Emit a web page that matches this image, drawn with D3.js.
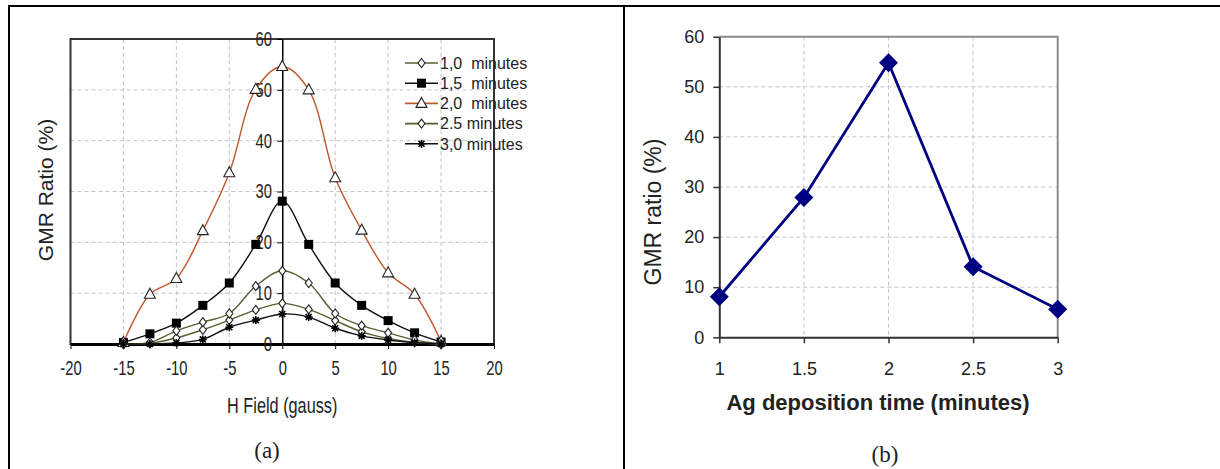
<!DOCTYPE html>
<html lang="en">
<head>
<meta charset="UTF-8">
<title>GMR ratio</title>
<script src="https://cdn.jsdelivr.net/npm/d3@7"></script>
<style>
  body { margin: 0; background: #fff; }
  text { font-family: "Liberation Sans", Arial, sans-serif; fill: #222; }
</style>
</head>
<body>
<script>
// ---- data, panel (a) ----
const hField = [-15, -12.5, -10, -7.5, -5, -2.5, 0, 2.5, 5, 7.5, 10, 12.5, 15]
const gmr10 = [0, 0.1, 1.2, 2.8, 4.7, 6.7, 8.0, 6.8, 4.6, 2.4, 1.1, 0.3, 0]
const gmr15 = [0.3, 2.0, 4.1, 7.6, 12.0, 19.6, 28.1, 19.6, 12.0, 7.6, 4.6, 2.2, 0.4]
const gmr20 = [0.3, 9.8, 12.9, 22.3, 33.7, 50.1, 54.6, 50.0, 32.7, 22.4, 14.0, 9.8, 0.5]
const gmr25 = [0, 0.3, 2.6, 4.3, 6.0, 11.4, 14.4, 12.0, 6.0, 3.6, 2.2, 0.8, 0]
const gmr30 = [0, 0, 0.2, 0.9, 3.3, 4.7, 5.9, 5.3, 3.1, 1.6, 0.8, 0.3, 0]
const seriesNames = ['1,0  minutes', '1,5  minutes', '2,0  minutes', '2.5 minutes', '3,0 minutes']
const xTicksA = [-20, -15, -10, -5, 0, 5, 10, 15, 20]
const yTicksA = [0, 10, 20, 30, 40, 50, 60]

// ---- data, panel (b) ----
const depTime = [1, 1.5, 2, 2.5, 3]
const gmrPeak = [8.1, 27.9, 54.8, 14.1, 5.6]
const xTicksB = [1, 1.5, 2, 2.5, 3]
const yTicksB = [0, 10, 20, 30, 40, 50, 60]

const W = 1220, H = 469
const squeeze = 'scale(0.74,1)'   // text in panel (a) looks horizontally condensed
const svg = d3.select('body').append('svg').attr('width', W).attr('height', H)

// table borders
svg.append('line').attr('x1', 8).attr('x2', 1220).attr('y1', 6).attr('y2', 6).attr('stroke', '#000').attr('stroke-width', 2)
svg.append('line').attr('x1', 9).attr('x2', 9).attr('y1', 5).attr('y2', H).attr('stroke', '#000').attr('stroke-width', 2)
svg.append('line').attr('x1', 624).attr('x2', 624).attr('y1', 5).attr('y2', H).attr('stroke', '#000').attr('stroke-width', 2)

// ================= panel (a) =================
const xA = d3.scaleLinear().domain([-20, 20]).range([70.5, 494])
const yA = d3.scaleLinear().domain([0, 60]).range([344, 39])
const gA = svg.append('g')

// grid
gA.selectAll('.vg').data([-15, -10, -5, 5, 10, 15]).enter().append('line')
  .attr('x1', d => xA(d)).attr('x2', d => xA(d)).attr('y1', yA(60)).attr('y2', yA(0))
  .attr('stroke', '#c4c4c4').attr('stroke-dasharray', '4,3')
gA.selectAll('.hg').data([10, 20, 30, 40, 50]).enter().append('line')
  .attr('x1', xA(-20)).attr('x2', xA(20)).attr('y1', d => yA(d)).attr('y2', d => yA(d))
  .attr('stroke', '#c4c4c4').attr('stroke-dasharray', '4,3')

// frame
gA.append('rect').attr('x', xA(-20)).attr('y', yA(60)).attr('width', xA(20) - xA(-20)).attr('height', yA(0) - yA(60))
  .attr('fill', 'none').attr('stroke', '#333').attr('stroke-width', 2)

// axes
const xAxisA = d3.axisBottom(xA).tickValues(xTicksA).tickSize(5).tickSizeOuter(0).tickFormat(d => String(d))
gA.append('g').attr('transform', `translate(0,${yA(0)})`).call(xAxisA)
  .call(g => g.select('.domain').attr('stroke-width', 3))
  .call(g => g.selectAll('text').attr('font-size', 20).attr('dy', '1.15em').attr('transform', squeeze).attr('fill', '#222'))
const yAxisA = d3.axisLeft(yA).tickValues(yTicksA).tickSize(5).tickSizeOuter(0)
gA.append('g').attr('transform', `translate(${xA(0)},0)`).call(yAxisA)
  .call(g => g.select('.domain').attr('stroke-width', 1.5))
  .call(g => g.selectAll('text').attr('font-size', 20).attr('x', -14).attr('transform', squeeze).attr('fill', '#222'))

const lineA = d3.line().x(d => xA(d[0])).y(d => yA(d[1])).curve(d3.curveCatmullRom.alpha(0.5))

const seriesA = [
  { name: seriesNames[0], vals: gmr10, color: '#5c5c30', marker: 'diamond' },
  { name: seriesNames[1], vals: gmr15, color: '#111', marker: 'square' },
  { name: seriesNames[2], vals: gmr20, color: '#c0562a', marker: 'triangle' },
  { name: seriesNames[3], vals: gmr25, color: '#5c5c30', marker: 'diamond' },
  { name: seriesNames[4], vals: gmr30, color: '#111', marker: 'star' }
]

function drawMarker(g, type, cx, cy) {
  if (type === 'square') {
    g.append('rect').attr('x', cx - 4.5).attr('y', cy - 4.5).attr('width', 9).attr('height', 9).attr('fill', '#000')
  } else if (type === 'triangle') {
    g.append('path').attr('d', `M${cx},${cy - 6}L${cx + 5.5},${cy + 4}L${cx - 5.5},${cy + 4}Z`)
      .attr('fill', '#fff').attr('stroke', '#222').attr('stroke-width', 1.1)
  } else if (type === 'diamond') {
    g.append('path').attr('d', `M${cx},${cy - 4.5}L${cx + 3.5},${cy}L${cx},${cy + 4.5}L${cx - 3.5},${cy}Z`)
      .attr('fill', '#fff').attr('stroke', '#222').attr('stroke-width', 1.1)
  } else if (type === 'star') {
    g.append('path').attr('d', `M${cx - 4},${cy}L${cx + 4},${cy}M${cx},${cy - 4}L${cx},${cy + 4}M${cx - 3},${cy - 3}L${cx + 3},${cy + 3}M${cx - 3},${cy + 3}L${cx + 3},${cy - 3}`)
      .attr('stroke', '#000').attr('stroke-width', 1.6)
  }
}

seriesA.forEach(s => {
  const pts = hField.map((x, i) => [x, s.vals[i]])
  gA.append('path').datum(pts).attr('d', lineA).attr('fill', 'none')
    .attr('stroke', s.color).attr('stroke-width', 1.4)
})
seriesA.forEach(s => {
  hField.forEach((x, i) => drawMarker(gA, s.marker, xA(x), yA(s.vals[i])))
})

// legend
const legX = 405, legY = 63, legStep = 20.2
seriesA.forEach((s, i) => {
  const y = legY + i * legStep
  gA.append('line').attr('x1', legX).attr('x2', legX + 33).attr('y1', y).attr('y2', y)
    .attr('stroke', s.color).attr('stroke-width', 1.6)
  drawMarker(gA, s.marker, legX + 16.5, y)
  gA.append('text').attr('x', legX + 35).attr('y', y).attr('dy', '0.36em')
    .attr('font-size', 16).style('white-space', 'pre').text(s.name)
})

// titles
gA.append('text').attr('transform', `translate(${xA(0)},413) ${squeeze}`).attr('text-anchor', 'middle')
  .attr('font-size', 22).text('H Field (gauss)')
gA.append('text').attr('transform', `translate(53,190) rotate(-90)`).attr('text-anchor', 'middle')
  .attr('font-size', 21).text('GMR Ratio (%)')
gA.append('text').attr('x', 267).attr('y', 458).attr('text-anchor', 'middle')
  .style('font-family', '"Liberation Serif", "Times New Roman", serif')
  .attr('font-size', 23).text('(a)')

// ================= panel (b) =================
const xB = d3.scaleLinear().domain([1, 3]).range([719.3, 1057.7])
const yB = d3.scaleLinear().domain([0, 60]).range([337.3, 36.7])
const gB = svg.append('g')

gB.selectAll('.vg').data([1.5, 2, 2.5]).enter().append('line')
  .attr('x1', d => xB(d)).attr('x2', d => xB(d)).attr('y1', yB(60)).attr('y2', yB(0))
  .attr('stroke', '#c4c4c4').attr('stroke-dasharray', '4,3')
gB.selectAll('.hg').data([10, 20, 30, 40, 50]).enter().append('line')
  .attr('x1', xB(1)).attr('x2', xB(3)).attr('y1', d => yB(d)).attr('y2', d => yB(d))
  .attr('stroke', '#c4c4c4').attr('stroke-dasharray', '4,3')

// top / right frame in gray
gB.append('path').attr('d', `M${xB(1)},${yB(60)}H${xB(3)}V${yB(0)}`)
  .attr('fill', 'none').attr('stroke', '#8a8a8a').attr('stroke-width', 2)

const xAxisB = d3.axisBottom(xB).tickValues(xTicksB).tickSize(6).tickSizeOuter(0).tickFormat(d3.format('~g'))
gB.append('g').attr('transform', `translate(0,${yB(0)})`).call(xAxisB)
  .call(g => g.select('.domain').attr('stroke', '#333').attr('stroke-width', 2))
  .call(g => g.selectAll('.tick line').attr('stroke', '#333').attr('stroke-width', 1.5))
  .call(g => g.selectAll('text').attr('font-size', 18).attr('dy', '1.6em').attr('fill', '#222'))
const yAxisB = d3.axisLeft(yB).tickValues(yTicksB).tickSize(6).tickSizeOuter(0)
gB.append('g').attr('transform', `translate(${xB(1)},0)`).call(yAxisB)
  .call(g => g.select('.domain').attr('stroke', '#333').attr('stroke-width', 2))
  .call(g => g.selectAll('.tick line').attr('stroke', '#333').attr('stroke-width', 1.5))
  .call(g => g.selectAll('text').attr('font-size', 18).attr('x', -15).attr('fill', '#222'))

const lineB = d3.line().x((d, i) => xB(depTime[i])).y(d => yB(d))
gB.append('path').datum(gmrPeak).attr('d', lineB).attr('fill', 'none')
  .attr('stroke', '#000080').attr('stroke-width', 2.8)
gB.selectAll('.pt').data(gmrPeak).enter().append('path')
  .attr('d', (d, i) => {
    const cx = xB(depTime[i]), cy = yB(d)
    return `M${cx},${cy - 9.5}L${cx + 9.5},${cy}L${cx},${cy + 9.5}L${cx - 9.5},${cy}Z`
  })
  .attr('fill', '#000080')

gB.append('text').attr('x', 878).attr('y', 410).attr('text-anchor', 'middle')
  .attr('font-size', 22).attr('font-weight', 'bold').text('Ag deposition time (minutes)')
gB.append('text').attr('transform', `translate(661,212) rotate(-90)`).attr('text-anchor', 'middle')
  .attr('font-size', 23).text('GMR ratio (%)')
gB.append('text').attr('x', 885).attr('y', 462).attr('text-anchor', 'middle')
  .style('font-family', '"Liberation Serif", "Times New Roman", serif')
  .attr('font-size', 23).text('(b)')
</script>
</body>
</html>
